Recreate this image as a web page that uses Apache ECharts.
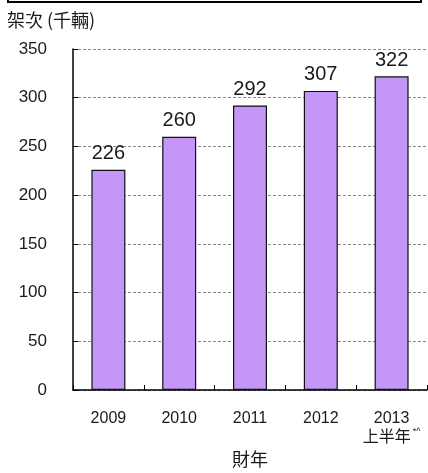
<!DOCTYPE html>
<html><head><meta charset="utf-8">
<script src="https://cdn.jsdelivr.net/npm/echarts@6/dist/echarts.min.js"></script>
<style>html,body{margin:0;padding:0;background:#fff;}#c{width:428px;height:473px;}</style>
</head><body><div id="c"></div>
<script>
const categories = ['2009', '2010', '2011', '2012', '2013'];
const values = [226, 260, 292, 307, 322];
const yTicks = [0, 50, 100, 150, 200, 250, 300, 350];
const yName = '架次 (千輛)';
const xName = '財年';

const chart = echarts.init(document.getElementById('c'));
chart.setOption({
  animation: false,
  backgroundColor: '#fff',
  graphic: [
    { type: 'rect', shape: { x: 8, y: -4, width: 413, height: 6 }, style: { fill: 'none', stroke: '#000', lineWidth: 2 } },
    { type: 'text', left: 7, top: 11, style: { text: yName, font: '18px "Noto Sans CJK TC", sans-serif', fill: '#1a1a1a' } }
  ],
  grid: { left: 73, right: 1, top: 49, bottom: 77 },
  xAxis: {
    type: 'category',
    data: categories,
    name: xName,
    nameLocation: 'middle',
    nameGap: 60,
    nameTextStyle: { fontSize: 18, fontFamily: '"Noto Sans CJK TC", sans-serif', color: '#1a1a1a' },
    axisLine: { lineStyle: { color: '#000', width: 1.5 } },
    axisTick: { show: true, inside: true, length: 5, interval: 0, lineStyle: { color: '#000' } },
    axisLabel: {
      interval: 0,
      margin: 21,
      color: '#1a1a1a',
      fontSize: 16,
      fontFamily: 'Arial, "Liberation Sans", sans-serif',
      formatter: function (v) { return v === '2013' ? '2013\n{cn|上半年}{sup|*^}' : v; },
      rich: {
        cn: { fontSize: 16, fontFamily: '"Noto Sans CJK TC", sans-serif', color: '#1a1a1a', lineHeight: 18 },
        sup: { fontSize: 9, color: '#1a1a1a', verticalAlign: 'top', padding: [0, 0, 8, 2] }
      }
    }
  },
  yAxis: {
    type: 'value',
    min: 0, max: 350, interval: 50,
    axisLine: { show: true, lineStyle: { color: '#000', width: 1.5 } },
    axisTick: { show: true, inside: true, length: 5, lineStyle: { color: '#000' } },
    axisLabel: { margin: 26, color: '#1a1a1a', fontSize: 17, fontFamily: 'Arial, "Liberation Sans", sans-serif',
      formatter: function (v) { return yTicks.indexOf(v) >= 0 ? String(v) : ''; } },
    splitLine: { show: true, lineStyle: { color: '#888', type: [3, 2], width: 1 } }
  },
  series: [{
    type: 'bar',
    data: values,
    barWidth: 34,
    itemStyle: { color: '#c496f8', borderColor: '#111', borderWidth: 1.2 },
    label: { show: true, position: 'top', distance: 6, fontSize: 20, color: '#1a1a1a', fontFamily: 'Arial, "Liberation Sans", sans-serif' }
  }]
});
</script></body></html>
